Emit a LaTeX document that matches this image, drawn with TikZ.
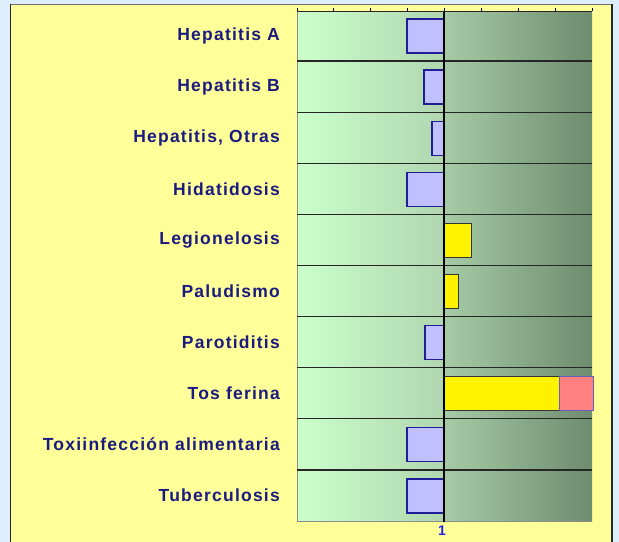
\documentclass[tikz,border=0pt]{standalone}
\usepackage{fontspec}
\newfontfamily\lblfont{Liberation Sans}[LetterSpace=7]
\definecolor{bgblue}{HTML}{DDEEFF}
\definecolor{paper}{HTML}{FFFF99}
\definecolor{labelblue}{HTML}{1A1A80}
\definecolor{gA}{HTML}{CCFFCC}
\definecolor{gB}{HTML}{B0D6B0}
\definecolor{gC}{HTML}{A6CBA6}
\definecolor{gD}{HTML}{6E8C6E}
\definecolor{lav}{HTML}{C0C0FF}
\definecolor{lavedge}{HTML}{1E1E96}
\definecolor{pinkbar}{HTML}{FF8080}
\definecolor{tickblue}{HTML}{2222EE}
\tikzset{
  lbl/.style={anchor=east, inner sep=0pt, text=labelblue,
    font=\lblfont\bfseries\fontsize{17.5bp}{20bp}\selectfont},
  negbar/.style={fill=lav, draw=lavedge, line width=1.2bp},
  posbar/.style={fill=yellow, draw=black!80, line width=1bp},
  hibar/.style={fill=pinkbar, draw=lavedge!70, line width=1bp},
  sep/.style={draw=black!85, line width=1.2bp},
}
\begin{document}
\begin{tikzpicture}[x=1bp,y=-1bp]
\useasboundingbox (0,0) rectangle (619,542);
% background and frame
\fill[bgblue] (0,0) rectangle (619,542);
\fill[paper] (10.5,4.5) rectangle (612,542);
\draw[black!55, line width=1.2bp] (10.5,542) -- (10.5,4.5) -- (612,4.5);
\draw[black!85, line width=1.2bp] (10.5,4.5) -- (10.5,542);
\draw[black!85, line width=1.2bp] (612,4.5) -- (612,542);
% plot area shading
\shade[left color=gA, right color=gB] (297,11.5) rectangle (444,521);
\shade[left color=gC, right color=gD] (444,11.5) rectangle (592,521);
\draw[black!45, line width=1bp] (297,11.5) -- (297,521) -- (592,521);
% row separators
\foreach \k in {1,...,9}
  \draw[sep] (297,{10+51.1*\k}) -- (592,{10+51.1*\k});
% bars
\filldraw[negbar] (407,{10+51.1*0+9}) rectangle (444,{10+51.1*0+43});
\filldraw[negbar] (424,{10+51.1*1+9}) rectangle (444,{10+51.1*1+43});
\filldraw[negbar] (432,{10+51.1*2+9}) rectangle (444,{10+51.1*2+43});
\filldraw[negbar] (407,{10+51.1*3+9}) rectangle (444,{10+51.1*3+43});
\filldraw[posbar] (444,{10+51.1*4+9}) rectangle (471,{10+51.1*4+43});
\filldraw[posbar] (444,{10+51.1*5+9}) rectangle (458,{10+51.1*5+43});
\filldraw[negbar] (425,{10+51.1*6+9}) rectangle (444,{10+51.1*6+43});
\filldraw[posbar] (444,{10+51.1*7+9}) rectangle (559,{10+51.1*7+43});
\filldraw[hibar] (559,{10+51.1*7+9}) rectangle (593,{10+51.1*7+43});
\filldraw[negbar] (407,{10+51.1*8+9}) rectangle (444,{10+51.1*8+43});
\filldraw[negbar] (407,{10+51.1*9+9}) rectangle (444,{10+51.1*9+43});
% centre line
\draw[black, line width=1.3bp] (444,11.5) -- (444,522);
% top axis and ticks
\draw[black!85, line width=1.2bp] (297,11.5) -- (592,11.5);
\foreach \t in {297,333.9,370.8,407.6,444.5,481.4,518.3,555.1,592}
  \draw[black, line width=1bp] (\t,11.5) -- (\t,8.5);
% labels
\node[lbl] (l0) at (280,{10+51.1*0+25.5}) {Hepatitis A};
\node[lbl] (l1) at (280,{10+51.1*1+25.5}) {Hepatitis B};
\node[lbl] (l2) at (280,{10+51.1*2+25.5}) {Hepatitis, Otras};
\node[lbl] (l3) at (280,{10+51.1*3+25.5}) {Hidatidosis};
\node[lbl] (l4) at (280,{10+51.1*4+25.5}) {Legionelosis};
\node[lbl] (l5) at (280,{10+51.1*5+25.5}) {Paludismo};
\node[lbl] (l6) at (280,{10+51.1*6+25.5}) {Parotiditis};
\node[lbl] (l7) at (280,{10+51.1*7+25.5}) {Tos ferina};
\node[lbl] (l8) at (280,{10+51.1*8+25.5}) {Toxiinfección alimentaria};
\node[lbl] (l9) at (280,{10+51.1*9+25.5}) {Tuberculosis};
\node[inner sep=0pt, text=tickblue, font=\lblfont\bfseries\fontsize{14bp}{15bp}\selectfont] (one) at (442,530.5) {1};
\end{tikzpicture}
\end{document}
